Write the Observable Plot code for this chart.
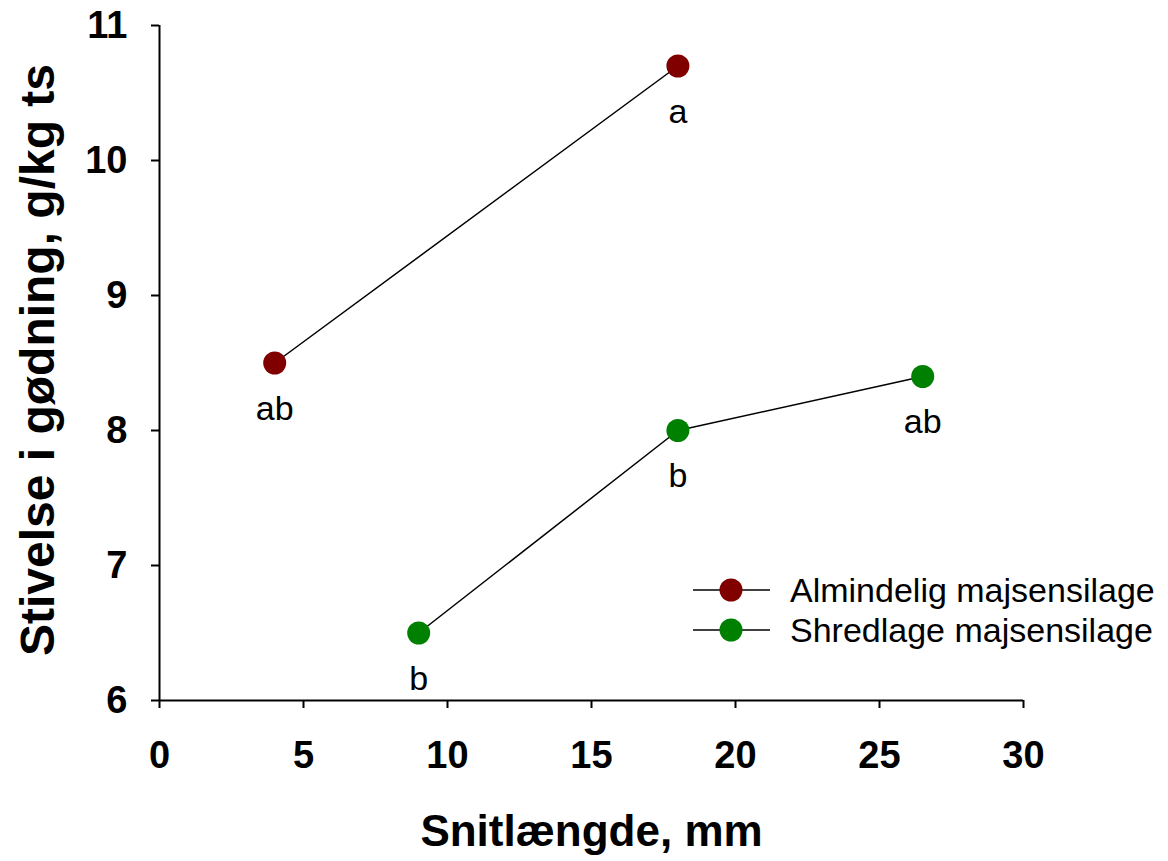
<!DOCTYPE html>
<html>
<head>
<meta charset="utf-8">
<script src="https://cdn.jsdelivr.net/npm/d3@7"></script>
<script src="https://cdn.jsdelivr.net/npm/@observablehq/plot@0.6"></script>
<style>
  body { margin: 0; background: #fff; font-family: "Liberation Sans", Arial, sans-serif; }
  #wrap { position: relative; width: 1168px; height: 861px; }
  .lg-row { position: absolute; left: 693px; height: 40px; line-height: 40px; font-size: 34px; color: #000; white-space: nowrap; }
  .lg-row svg { position: absolute; left: 0; top: 8px; }
  .lg-row span { position: absolute; left: 97px; top: 0; }
</style>
</head>
<body>
<div id="wrap"></div>
<script>
// ---- data ----
const seriesNames = ["Almindelig majsensilage", "Shredlage majsensilage"];
const seriesColors = ["#800000", "#008000"];

const almX = [4, 18];
const almY = [8.5, 10.7];
const almLabels = ["ab", "a"];

const shrX = [9, 18, 26.5];
const shrY = [6.5, 8.0, 8.4];
const shrLabels = ["b", "b", "ab"];

const xTicks = [0, 5, 10, 15, 20, 25, 30];
const yTicks = [6, 7, 8, 9, 10, 11];

const xTitle = "Snitlængde, mm";
const yTitle = "Stivelse i gødning, g/kg ts";

// ---- table ----
const data = [
  ...almX.map((x, i) => ({series: seriesNames[0], x, y: almY[i], label: almLabels[i]})),
  ...shrX.map((x, i) => ({series: seriesNames[1], x, y: shrY[i], label: shrLabels[i]}))
];

const font = "Liberation Sans, Arial, sans-serif";

const chart = Plot.plot({
  width: 1168,
  height: 861,
  marginLeft: 159,
  marginRight: 145,
  marginTop: 25,
  marginBottom: 161,
  style: {fontFamily: font, background: "white", color: "black", overflow: "visible"},
  x: {domain: [0, 30]},
  y: {domain: [6, 11]},
  color: {domain: seriesNames, range: seriesColors},
  marks: [
    Plot.axisX(xTicks, {tickSize: 8, tickPadding: 33, fontSize: 38, fontWeight: "bold", strokeWidth: 2, label: null, tickFormat: d => String(d)}),
    Plot.axisY(yTicks, {tickSize: 8, tickPadding: 24, fontSize: 38, fontWeight: "bold", strokeWidth: 2, label: null, tickFormat: d => String(d)}),
    Plot.ruleX([0], {stroke: "black", strokeWidth: 2}),
    Plot.ruleY([6], {stroke: "black", strokeWidth: 2}),
    Plot.line(data, {x: "x", y: "y", z: "series", stroke: "black", strokeWidth: 1.5}),
    Plot.dot(data, {x: "x", y: "y", fill: "series", r: 11.5}),
    Plot.text(data, {x: "x", y: "y", text: "label", dy: 46, lineAnchor: "middle", fontSize: 34, fill: "black"}),
    Plot.text([xTitle], {frameAnchor: "bottom", text: d => d, dy: 131, lineAnchor: "middle", textAnchor: "middle", fontSize: 44, fontWeight: "bold", fill: "black"}),
    Plot.text([yTitle], {frameAnchor: "left", text: d => d, rotate: -90, dx: -121, dy: -3, lineAnchor: "middle", textAnchor: "middle", fontSize: 48, fontWeight: "bold", fill: "black"})
  ]
});

const wrap = document.getElementById("wrap");
wrap.appendChild(chart);

// ---- legend (inside plot area, lower right) ----
seriesNames.forEach((name, i) => {
  const row = document.createElement("div");
  row.className = "lg-row";
  row.style.top = (570 + i * 40) + "px";
  row.innerHTML =
    `<svg width="77" height="24" viewBox="0 0 77 24">
       <line x1="0" x2="77" y1="12" y2="12" stroke="black" stroke-width="1.5"/>
       <circle cx="38" cy="12" r="11.5" fill="${seriesColors[i]}"/>
     </svg><span>${name}</span>`;
  wrap.appendChild(row);
});
</script>
</body>
</html>
